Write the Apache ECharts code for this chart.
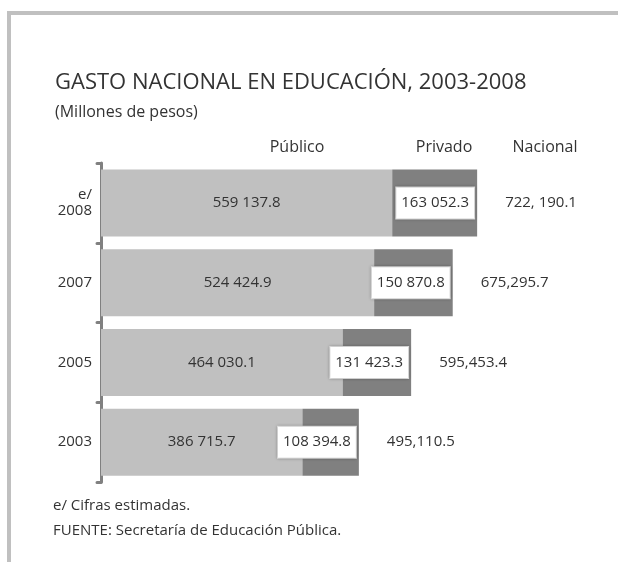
<!DOCTYPE html>
<html>
<head>
<meta charset="utf-8">
<script src="https://cdn.jsdelivr.net/npm/echarts@6/dist/echarts.min.js"></script>
<style>
html,body{margin:0;padding:0;background:#fff;}
#chart{width:618px;height:562px;}
</style>
</head>
<body>
<div id="chart"></div>
<script>
// ---- data ----
var years = ['2008', '2007', '2005', '2003'];
var yearLabels = ['e/\n2008', '2007', '2005', '2003'];
var publico = [559137.8, 524424.9, 464030.1, 386715.7];
var privado = [163052.3, 150870.8, 131423.3, 108394.8];
var nacional = [722190.1, 675295.7, 595453.4, 495110.5];
var nacionalLabels = ['722, 190.1', '675,295.7', '595,453.4', '495,110.5'];
var headers = ['Público', 'Privado', 'Nacional'];

var FONT = '"Open Sans", "Noto Sans", sans-serif';
var TXT = '#333333';

function fmt(v) {
  var parts = v.toFixed(1).split('.');
  var s = parts[0].replace(/\B(?=(\d{3})+(?!\d))/g, ' ');
  return s + '.' + parts[1];
}

var chart = echarts.init(document.getElementById('chart'), null, {renderer: 'canvas'});
var option = {
  backgroundColor: '#ffffff',
  animation: false,
  textStyle: {fontFamily: FONT},
  grid: {left: 101, right: 17, top: 163, bottom: 80, containLabel: false},
  xAxis: {
    type: 'value', min: 0, max: 960000, show: false
  },
  yAxis: {
    type: 'category',
    data: yearLabels,
    inverse: true,
    offset: 2,
    axisLine: {show: true, lineStyle: {color: '#808080', width: 3}},
    axisTick: {show: true, length: 4, lineStyle: {color: '#808080', width: 3, cap: 'round'}},
    axisLabel: {color: TXT, fontSize: 15, fontFamily: FONT, margin: 7, align: 'right', lineHeight: 16}
  },
  series: [
    {
      name: headers[0], type: 'bar', stack: 'g', barWidth: 67,
      data: publico,
      itemStyle: {color: '#c0c0c0'},
      label: {
        show: true, position: 'inside', color: TXT, fontSize: 15, fontFamily: FONT,
        formatter: function (p) { return fmt(p.value); }
      },
      z: 2
    },
    {
      name: headers[1], type: 'bar', stack: 'g', barWidth: 67,
      data: privado,
      itemStyle: {color: '#808080'},
      label: {
        show: true, position: 'insideRight', distance: 3, color: TXT, fontSize: 15, fontFamily: FONT,
        lineHeight: 20,
        backgroundColor: '#ffffff', borderColor: '#dddddd', borderWidth: 1,
        padding: [6, 5, 5, 5],
        shadowBlur: 3, shadowColor: 'rgba(0,0,0,0.25)',
        formatter: function (p) { return fmt(p.value); }
      },
      z: 3
    },
    {
      name: headers[2], type: 'bar', barWidth: 67, barGap: '-100%',
      data: nacional,
      itemStyle: {color: 'rgba(0,0,0,0)'},
      label: {
        show: true, position: 'right', distance: 28, color: TXT, fontSize: 15, fontFamily: FONT,
        formatter: function (p) { return nacionalLabels[p.dataIndex]; }
      },
      silent: true,
      z: 1
    }
  ],
  graphic: [
    {type: 'rect', shape: {x: 7, y: 11, width: 611, height: 4}, style: {fill: '#c0c0c0'}},
    {type: 'rect', shape: {x: 7, y: 11, width: 4, height: 551}, style: {fill: '#c0c0c0'}},
    {type: 'text', x: 55, y: 83, style: {text: 'GASTO NACIONAL EN EDUCACIÓN, 2003-2008', fontSize: 22, fontFamily: FONT, fill: TXT, verticalAlign: 'middle'}},
    {type: 'text', x: 55, y: 112, style: {text: '(Millones de pesos)', fontSize: 16, fontFamily: FONT, fill: TXT, verticalAlign: 'middle'}},
    {type: 'text', x: 297, y: 147, style: {text: headers[0], fontSize: 16, fontFamily: FONT, fill: TXT, align: 'center', verticalAlign: 'middle'}},
    {type: 'text', x: 444, y: 147, style: {text: headers[1], fontSize: 16, fontFamily: FONT, fill: TXT, align: 'center', verticalAlign: 'middle'}},
    {type: 'text', x: 545, y: 147, style: {text: headers[2], fontSize: 16, fontFamily: FONT, fill: TXT, align: 'center', verticalAlign: 'middle'}},
    {type: 'text', x: 53, y: 506, style: {text: 'e/ Cifras estimadas.', fontSize: 15, fontFamily: FONT, fill: TXT, verticalAlign: 'middle'}},
    {type: 'text', x: 53, y: 531, style: {text: 'FUENTE: Secretaría de Educación Pública.', fontSize: 15, fontFamily: FONT, fill: TXT, verticalAlign: 'middle'}}
  ]
};
chart.setOption(option);
</script>
</body>
</html>
